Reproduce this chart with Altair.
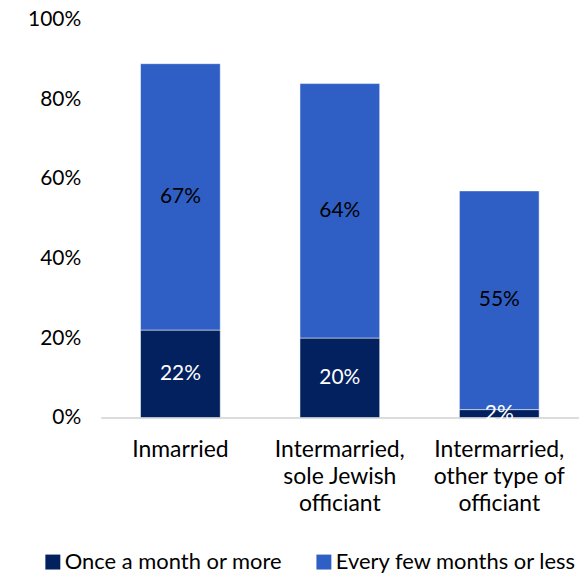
import altair as alt
import pandas as pd

categories = ["Inmarried", "Intermarried, sole Jewish officiant", "Intermarried, other type of officiant"]
series = ["Once a month or more", "Every few months or less"]
monthly = [22, 20, 2]
few_months = [67, 64, 55]

rows = []
for i, c in enumerate(categories):
    rows.append({"cat": c, "series": series[0], "order": 0, "value": monthly[i], "label": f"{monthly[i]}%"})
    rows.append({"cat": c, "series": series[1], "order": 1, "value": few_months[i], "label": f"{few_months[i]}%"})
df = pd.DataFrame(rows)

FONT = "Lato"
FS = 21
FS_TXT = 23
FS_LEG = 22
colors = ["#03215e", "#2f5fc4"]

label_expr = ("datum.value == 'Inmarried' ? ['Inmarried'] : "
              "datum.value == 'Intermarried, sole Jewish officiant' ? ['Intermarried,', 'sole Jewish', 'officiant'] : "
              "['Intermarried,', 'other type of', 'officiant']")

base = alt.Chart(df).encode(
    x=alt.X("cat:N", sort=categories, title=None,
            scale=alt.Scale(paddingInner=0.5, paddingOuter=0.25),
            axis=alt.Axis(labelAngle=0, labelExpr=label_expr, labelFont=FONT, labelFontSize=FS_TXT,
                          labelColor="#000000", labelPadding=21, labelLineHeight=27,
                          ticks=False, domainColor="#d0d0d0", domainWidth=1.5, labelBaseline="top")),
)

bars = base.mark_bar(stroke="white", strokeWidth=0.5).encode(
    y=alt.Y("value:Q", stack="zero", title=None,
            scale=alt.Scale(domain=[0, 100]),
            axis=alt.Axis(values=[0, 20, 40, 60, 80, 100], labelExpr="datum.value + '%'",
                          labelFont=FONT, labelFontSize=FS, labelColor="#000000",
                          labelPadding=20, ticks=False, domain=False, grid=False)),
    color=alt.Color("series:N", sort=series,
                    scale=alt.Scale(domain=series, range=colors),
                    legend=alt.Legend(title=None, orient="none", direction="horizontal",
                                      legendX=-59, legendY=533,
                                      symbolType="square", symbolSize=225, symbolStrokeWidth=0,
                                      labelFont=FONT, labelFontSize=FS_LEG, labelColor="#000000",
                                      labelLimit=0, columnPadding=30, labelOffset=1)),
    order=alt.Order("order:Q"),
)

text = base.mark_text(font=FONT, fontSize=FS).encode(
    y=alt.Y("mid:Q"),
    text="label:N",
    color=alt.condition(alt.datum.order == 0, alt.value("white"), alt.value("black")),
).transform_stack(
    stack="value", groupby=["cat"], sort=[alt.SortField("order")], as_=["y0", "y1"]
).transform_calculate(mid="(datum.y0 + datum.y1) / 2")

chart = alt.layer(bars, text).properties(
    width=480, height=399,
    autosize=alt.AutoSizeParams(type="none"),
    padding={"left": 93, "top": 11, "right": 0, "bottom": 156},
).configure(background="white").configure_view(stroke=None, strokeWidth=0)

chart.save("out.html", embed_options={"renderer": "svg", "actions": False})
